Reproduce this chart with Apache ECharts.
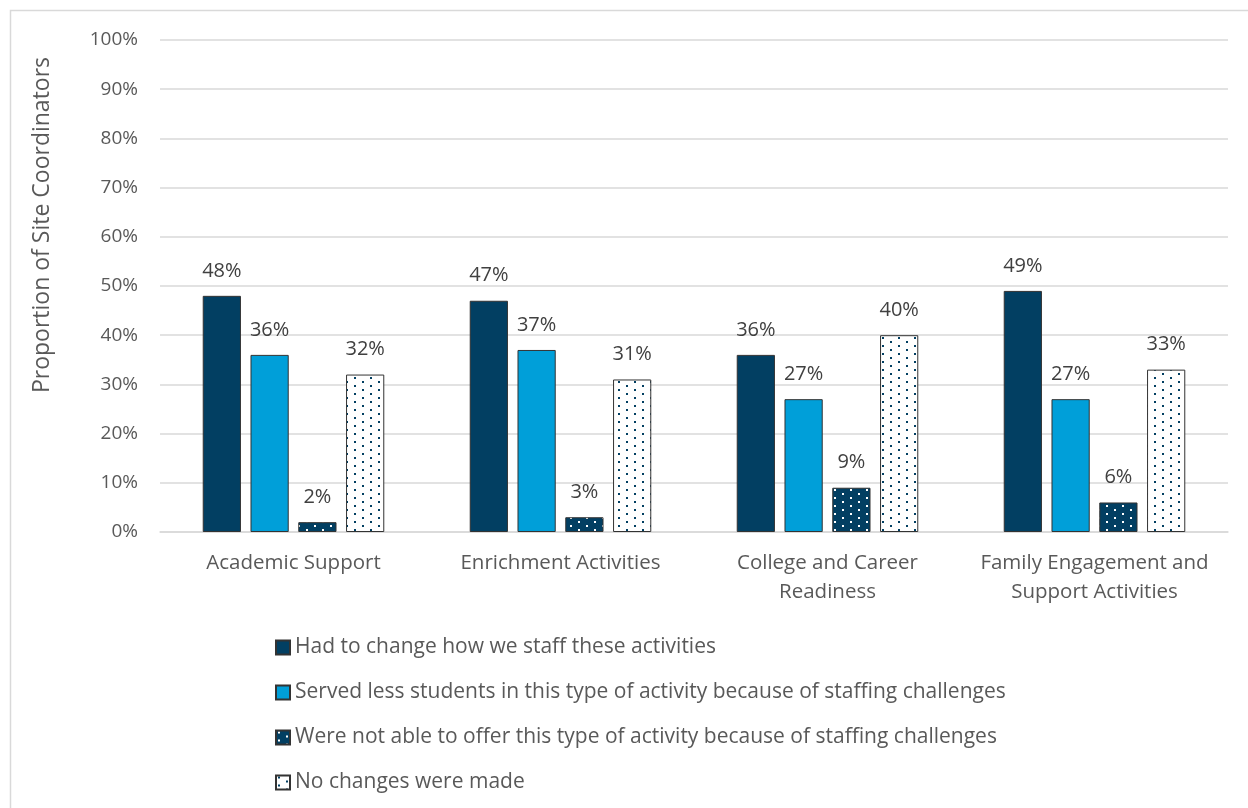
<!DOCTYPE html>
<html>
<head>
<meta charset="utf-8">
<script src="https://cdn.jsdelivr.net/npm/echarts@6/dist/echarts.min.js"></script>
<style>
  html, body { margin: 0; padding: 0; background: #fff; }
  #chart { width: 1248px; height: 808px; }
</style>
</head>
<body>
<div id="chart"></div>
<script>
// Activity categories along the x axis
var categories = [
  'Academic Support',
  'Enrichment Activities',
  'College and Career\nReadiness',
  'Family Engagement and\nSupport Activities'
];

// Share of site coordinators (%) per response
var changedStaffing = [48, 47, 36, 49];
var servedFewer = [36, 37, 27, 27];
var couldNotOffer = [2, 3, 9, 6];
var noChanges = [32, 31, 40, 33];

var seriesNames = [
  'Had to change how we staff these activities',
  'Served less students in this type of activity because of staffing challenges',
  'Were not able to offer this type of activity because of staffing challenges',
  'No changes were made'
];

var yTicks = [0, 10, 20, 30, 40, 50, 60, 70, 80, 90, 100];

var NAVY = '#023f62';
var SKY = '#009fd9';

// Staggered small-dot fill: 16x8 tile with two 2px dots
function dotPattern(bg, dot) {
  var c = document.createElement('canvas');
  c.width = 16; c.height = 8;
  var ctx = c.getContext('2d');
  ctx.fillStyle = bg;
  ctx.fillRect(0, 0, 16, 8);
  ctx.fillStyle = dot;
  ctx.fillRect(2, 1, 2, 2);
  ctx.fillRect(10, 5, 2, 2);
  return { image: c, repeat: 'repeat' };
}

var chart = echarts.init(document.getElementById('chart'));

var FONT = '"Open Sans", Lato, sans-serif';

function makeSeries(name, data, fill) {
  return {
    name: name,
    type: 'bar',
    data: data,
    barGap: '25%',
    barCategoryGap: '32%',
    itemStyle: { color: fill, borderColor: '#333333', borderWidth: 1 },
    label: {
      show: true,
      position: 'top',
      distance: 15,
      formatter: '{c}%',
      color: '#404040',
      fontSize: 20,
      fontFamily: FONT
    },
    emphasis: { disabled: true }
  };
}

chart.setOption({
  animation: false,
  textStyle: { fontFamily: FONT },
  grid: { left: 160, right: 20, top: 40, bottom: 276 },
  xAxis: {
    type: 'category',
    data: categories,
    axisTick: { show: false },
    axisLine: { lineStyle: { color: '#d9d9d9', width: 1.5 } },
    axisLabel: {
      color: '#595959',
      fontSize: 20.5,
      fontFamily: FONT,
      margin: 17,
      lineHeight: 29,
      interval: 0
    }
  },
  yAxis: {
    type: 'value',
    min: yTicks[0],
    max: yTicks[yTicks.length - 1],
    interval: 10,
    axisLine: { show: false },
    axisTick: { show: false },
    splitLine: { lineStyle: { color: '#d9d9d9', width: 1.5 } },
    axisLabel: {
      color: '#595959',
      fontSize: 19,
      fontFamily: FONT,
      margin: 22,
      formatter: '{value}%'
    }
  },
  legend: {
    orient: 'vertical',
    left: 275,
    top: 637,
    padding: 0,
    itemWidth: 14,
    itemHeight: 14,
    itemGap: 24,
    icon: 'rect',
    textStyle: { color: '#595959', fontSize: 21, fontFamily: FONT },
    data: seriesNames
  },
  graphic: [
    {
      type: 'rect',
      shape: { x: 10.5, y: 10.5, width: 1400, height: 1000 },
      style: { fill: 'none', stroke: '#d9d9d9', lineWidth: 1.5 },
      silent: true
    },
    {
      type: 'text',
      x: 42,
      y: 225,
      rotation: Math.PI / 2,
      style: {
        text: 'Proportion of Site Coordinators',
        fill: '#595959',
        fontSize: 23,
        fontFamily: FONT,
        align: 'center',
        verticalAlign: 'middle'
      }
    }
  ],
  series: [
    makeSeries(seriesNames[0], changedStaffing, NAVY),
    makeSeries(seriesNames[1], servedFewer, SKY),
    makeSeries(seriesNames[2], couldNotOffer, dotPattern(NAVY, '#ffffff')),
    makeSeries(seriesNames[3], noChanges, dotPattern('#ffffff', NAVY))
  ]
});
</script>
</body>
</html>
